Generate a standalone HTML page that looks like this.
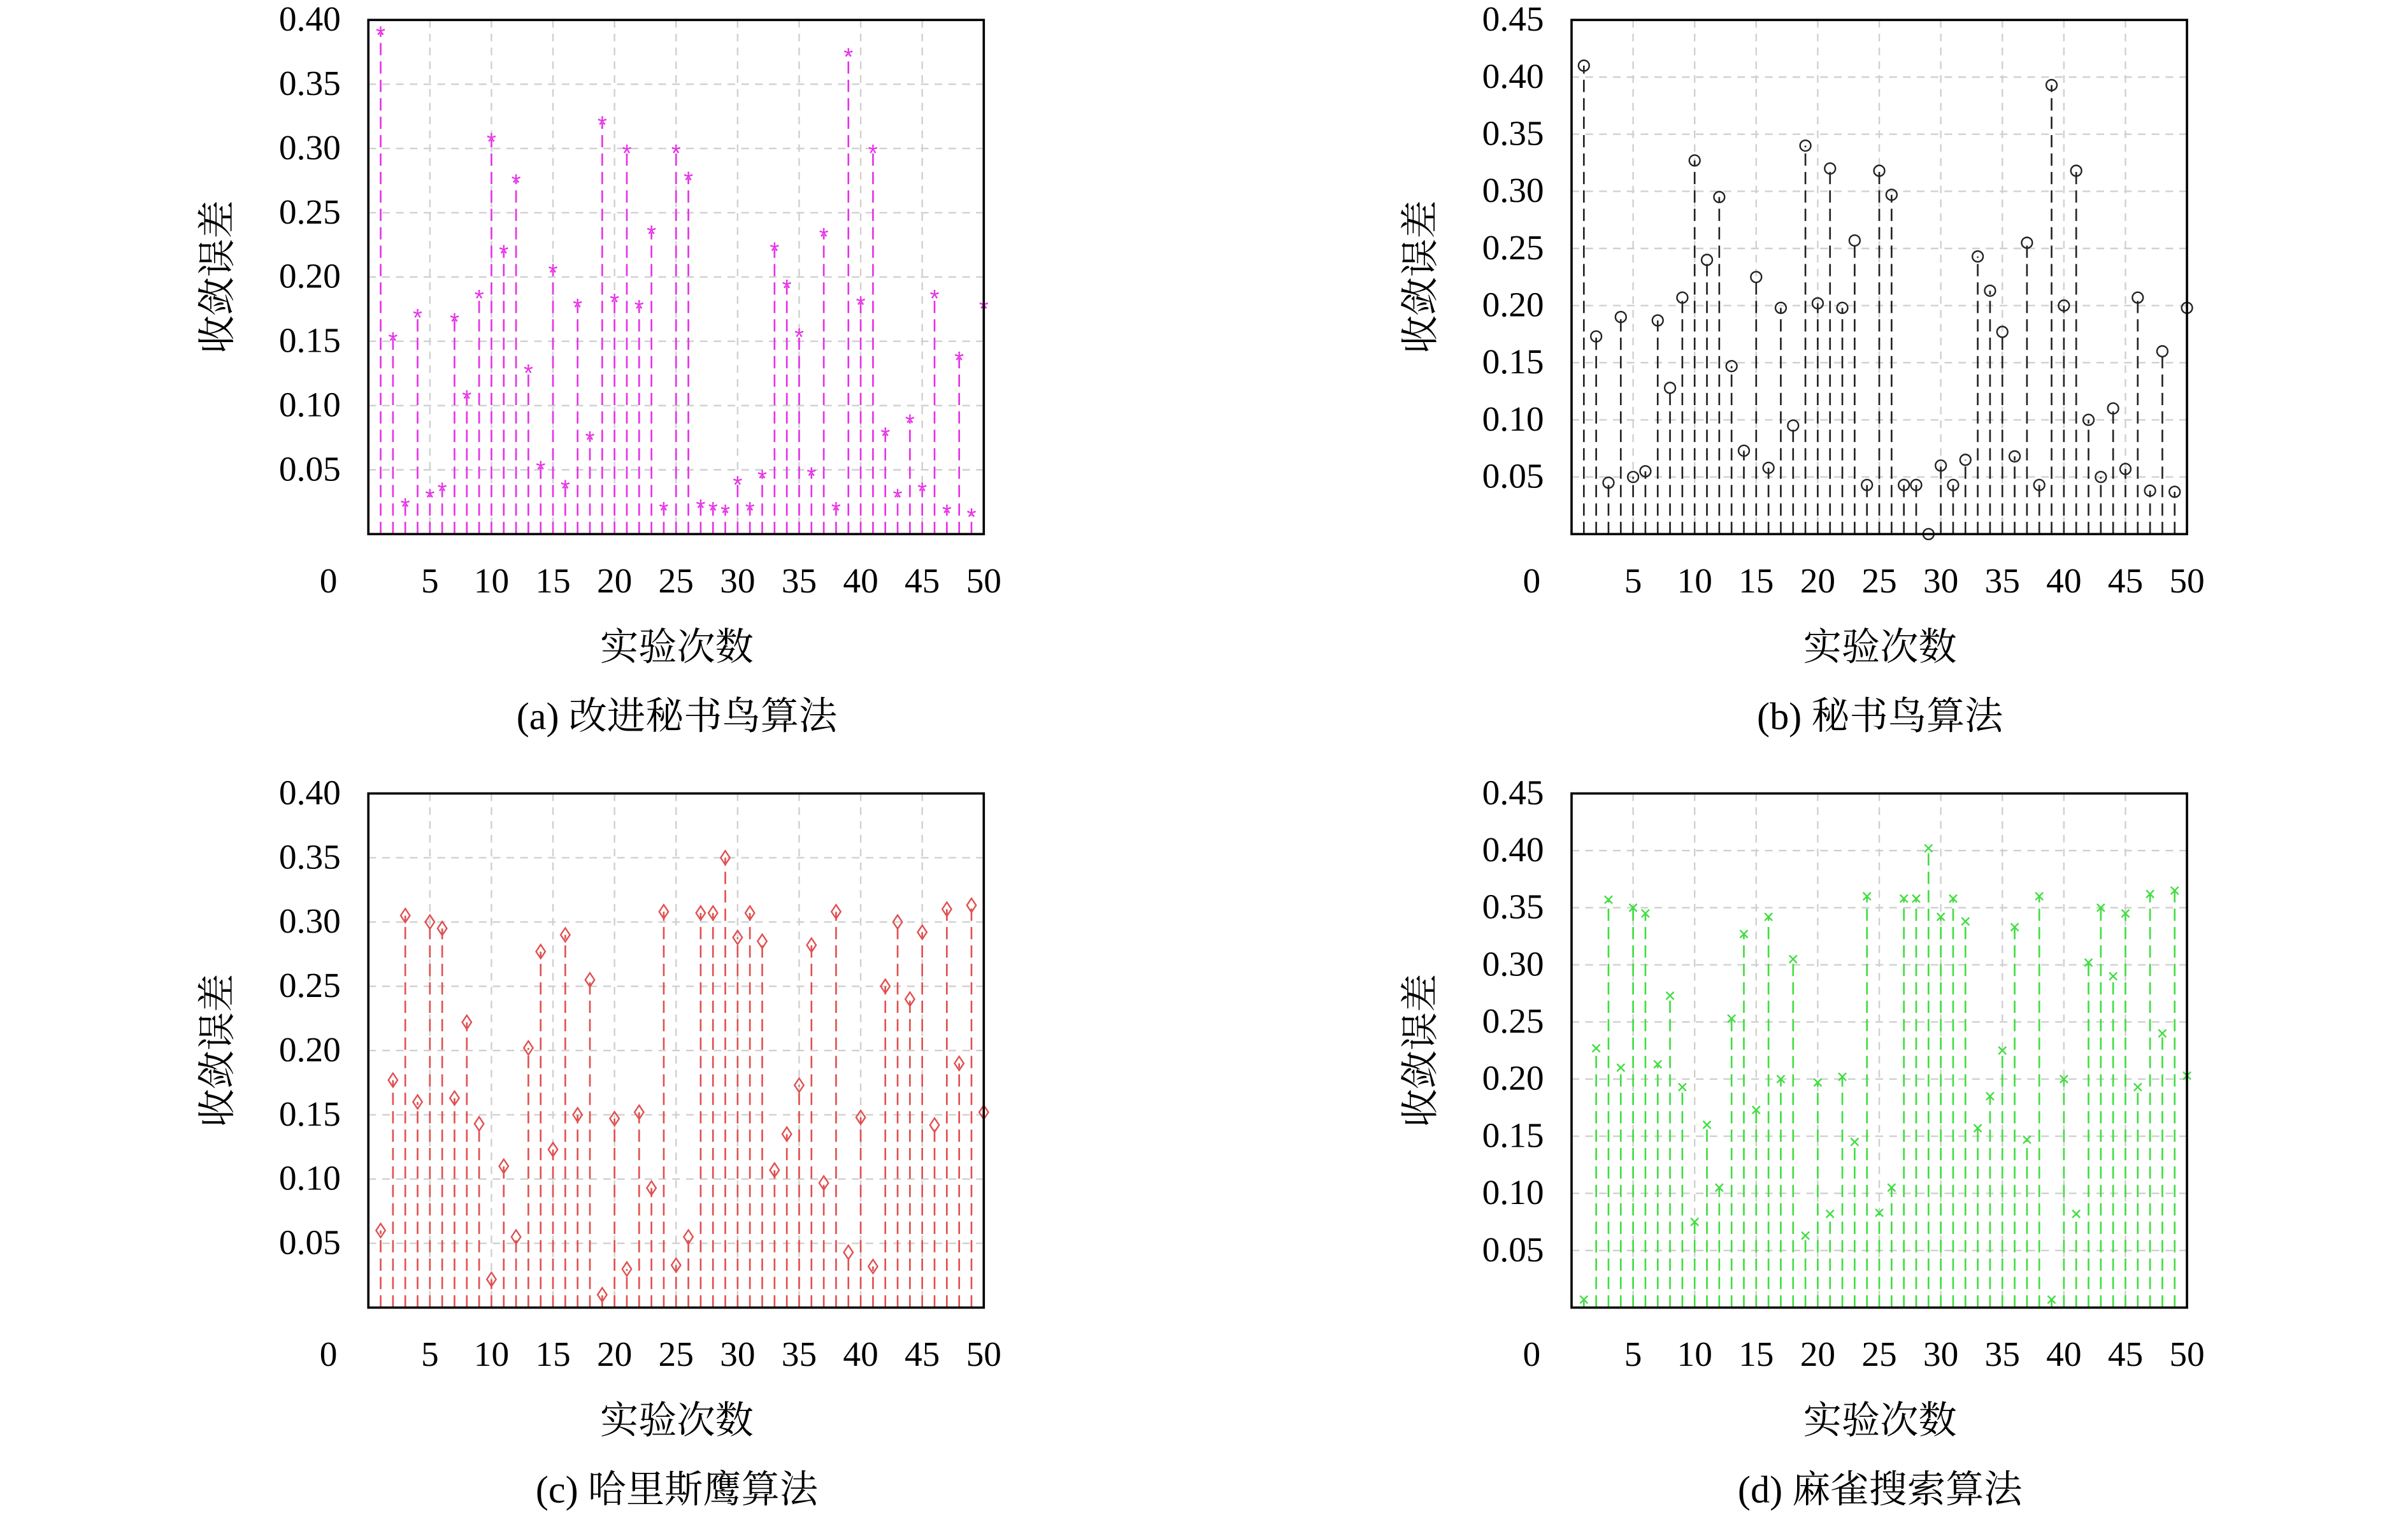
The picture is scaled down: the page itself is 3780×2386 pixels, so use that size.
<!DOCTYPE html>
<html><head><meta charset="utf-8">
<style>html,body{margin:0;padding:0;background:#fff;}svg{display:block}</style>
</head><body>
<svg id="s" width="3780" height="2386" viewBox="0 0 1569 990.4" xmlns="http://www.w3.org/2000/svg"></svg>
<script>
const A=[.39,.152,.023,.17,.03,.035,.167,.107,.185,.307,.22,.275,.127,.052,.205,.037,.178,.075,.32,.182,.298,.177,.235,.02,.298,.277,.022,.02,.018,.04,.02,.045,.222,.193,.155,.047,.233,.02,.373,.18,.298,.078,.03,.088,.035,.185,.018,.137,.015,.177];
const B=[.41,.173,.045,.19,.05,.055,.187,.128,.207,.327,.24,.295,.147,.073,.225,.058,.198,.095,.34,.202,.32,.198,.257,.043,.318,.297,.043,.043,.0,.06,.043,.065,.243,.213,.177,.068,.255,.043,.393,.2,.318,.1,.05,.11,.057,.207,.038,.16,.037,.198];
const C=[.06,.177,.305,.16,.3,.295,.163,.222,.143,.022,.11,.055,.202,.277,.123,.29,.15,.255,.01,.147,.03,.152,.093,.308,.033,.055,.307,.307,.35,.288,.307,.285,.107,.135,.173,.282,.097,.308,.043,.148,.032,.25,.3,.24,.292,.142,.31,.19,.313,.152];
const D=[.007,.227,.357,.21,.35,.345,.213,.273,.193,.075,.16,.105,.253,.327,.173,.342,.2,.305,.063,.197,.082,.202,.145,.36,.083,.105,.358,.358,.402,.342,.358,.338,.157,.185,.225,.333,.147,.36,.007,.2,.082,.302,.35,.29,.345,.193,.362,.24,.365,.203];
let o='';
const F='font-family="Liberation Serif, Noto Serif CJK SC, serif"';
const FC='font-family="Liberation Serif, Noto Serif CJK SC, Noto Sans CJK SC, serif"';
function panel(x0,y0,ymax,data,col,mk,cap){
  const W=401,H=335,x1=x0+W,y1=y0+H;
  const sx=v=>x0+v*W/50, sy=v=>y1-v*H/ymax;
  for(let t=5;t<50;t+=5) o+=`<line x1="${sx(t)}" y1="${y0}" x2="${sx(t)}" y2="${y1}" stroke="#d0d0d0" stroke-width="1" stroke-dasharray="5,4"/>`;
  for(let k=1;k*0.05<ymax-1e-9;k++){const y=sy(k*0.05);o+=`<line x1="${x0}" y1="${y}" x2="${x1}" y2="${y}" stroke="#d0d0d0" stroke-width="1" stroke-dasharray="5,4"/>`;}
  data.forEach((v,i)=>{const x=sx(i+1),y=sy(v);
    o+=`<line x1="${x}" y1="${y1}" x2="${x}" y2="${y}" stroke="${col}" stroke-width="1.1" stroke-dasharray="8,4"/>`;
    if(mk=='a'){o+=`<text x="${x}" y="${y+7}" text-anchor="middle" font-size="16" fill="${col}" font-family="Liberation Sans,sans-serif">*</text>`;}
    else if(mk=='o'){o+=`<circle cx="${x}" cy="${y}" r="3.5" fill="none" stroke="${col}" stroke-width="1"/>`;}
    else if(mk=='d'){o+=`<path d="M${x} ${y-4.5}L${x+3} ${y}L${x} ${y+4.5}L${x-3} ${y}Z" fill="none" stroke="${col}" stroke-width="1"/>`;}
    else {o+=`<path d="M${x-2.5} ${y-2.5}L${x+2.5} ${y+2.5}M${x+2.5} ${y-2.5}L${x-2.5} ${y+2.5}" stroke="${col}" stroke-width="1"/>`;}
  });
  o+=`<rect x="${x0}" y="${y0}" width="${W}" height="${H}" fill="none" stroke="#000" stroke-width="1.5"/>`;
  for(let k=1;k*0.05<=ymax+1e-9;k++){o+=`<text x="${x0-18}" y="${sy(k*0.05)+7}" text-anchor="end" font-size="23" ${F}>${(k*0.05).toFixed(2)}</text>`;}
  o+=`<text x="${x0-26}" y="${y1+38}" text-anchor="middle" font-size="23" ${F}>0</text>`;
  for(let t=5;t<=50;t+=5) o+=`<text x="${sx(t)}" y="${y1+38}" text-anchor="middle" font-size="23" ${F}>${t}</text>`;
  o+=`<text transform="translate(${x0-90},${(y0+y1)/2}) rotate(-90)" text-anchor="middle" font-size="25" ${FC}>收敛误差</text>`;
  o+=`<text x="${x0+201}" y="${y1+82}" text-anchor="middle" font-size="25" ${FC}>实验次数</text>`;
  o+=`<text x="${x0+201}" y="${y1+127}" text-anchor="middle" font-size="25" ${FC}>${cap}</text>`;
}
panel(240,13,0.40,A,'#e632e6','a','(a) 改进秘书鸟算法');
panel(1024,13,0.45,B,'#222','o','(b) 秘书鸟算法');
panel(240,517,0.40,C,'#e05050','d','(c) 哈里斯鹰算法');
panel(1024,517,0.45,D,'#40dd40','x','(d) 麻雀搜索算法');
document.getElementById('s').innerHTML=o;
</script>
</body></html>
